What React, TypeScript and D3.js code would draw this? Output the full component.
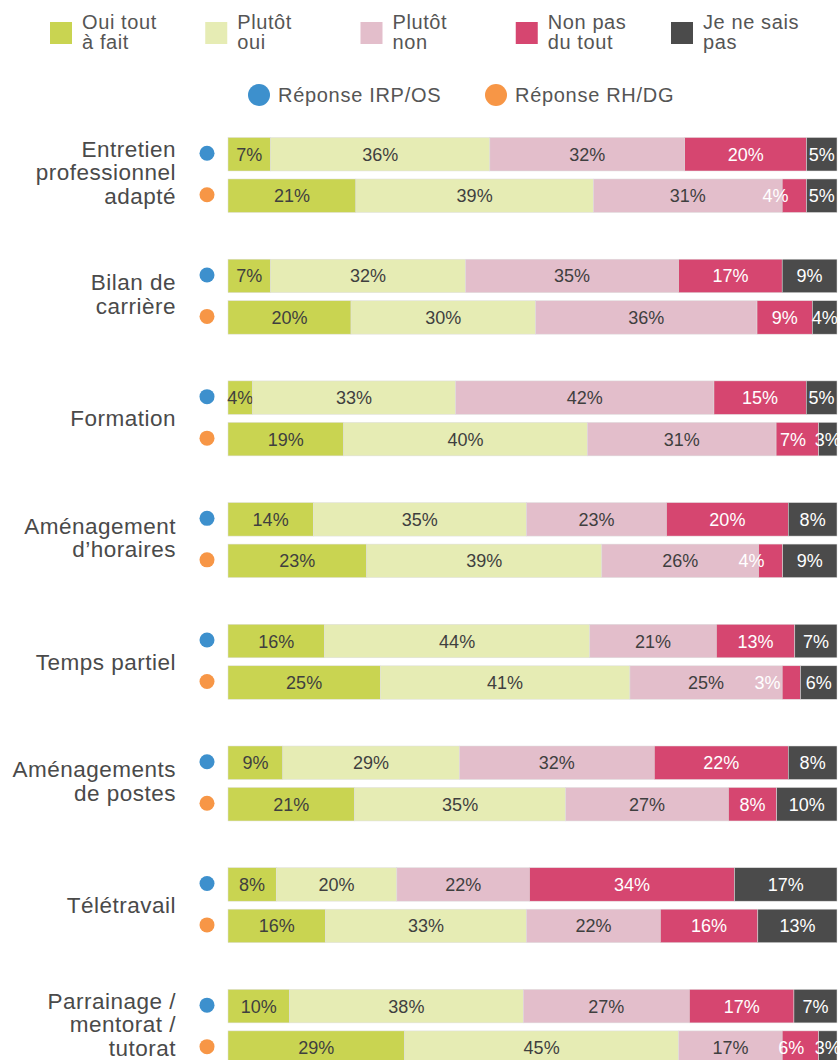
import React from 'react';
import * as d3 from 'd3';

const W = 839;
const H = 1060;

const categories = [
  'Entretien\nprofessionnel\nadapté',
  'Bilan de\ncarrière',
  'Formation',
  'Aménagement\nd’horaires',
  'Temps partiel',
  'Aménagements\nde postes',
  'Télétravail',
  'Parrainage /\nmentorat /\ntutorat',
];
const answers = ['Oui tout à fait', 'Plutôt oui', 'Plutôt non', 'Non pas du tout', 'Je ne sais pas'];
const answerLegend = ['Oui tout\nà fait', 'Plutôt\noui', 'Plutôt\nnon', 'Non pas\ndu tout', 'Je ne sais\npas'];
const sources = ['Réponse IRP/OS', 'Réponse RH/DG'];

const irpValues = [
  [7, 36, 32, 20, 5],
  [7, 32, 35, 17, 9],
  [4, 33, 42, 15, 5],
  [14, 35, 23, 20, 8],
  [16, 44, 21, 13, 7],
  [9, 29, 32, 22, 8],
  [8, 20, 22, 34, 17],
  [10, 38, 27, 17, 7],
];
const rhValues = [
  [21, 39, 31, 4, 5],
  [20, 30, 36, 9, 4],
  [19, 40, 31, 7, 3],
  [23, 39, 26, 4, 9],
  [25, 41, 25, 3, 6],
  [21, 35, 27, 8, 10],
  [16, 33, 22, 16, 13],
  [29, 45, 17, 6, 3],
];

const colors = ['#c9d451', '#e6ecb4', '#e3becb', '#d64670', '#4b4b4b'];
const labelColors = ['#3f3f3f', '#3f3f3f', '#3f3f3f', '#ffffff', '#ffffff'];
const dotColors = ['#3d90cd', '#f79646'];
const font = '"Liberation Sans", Arial, sans-serif';

const App = () => {
  const rows = categories.flatMap((c, i) => [
    { cat: c, src: sources[0], ...Object.fromEntries(answers.map((a, k) => [a, irpValues[i][k]])) },
    { cat: c, src: sources[1], ...Object.fromEntries(answers.map((a, k) => [a, rhValues[i][k]])) },
  ]);
  const stacked = d3.stack<any>().keys(answers).offset(d3.stackOffsetExpand)(rows);

  const x = d3.scaleLinear().domain([0, 1]).range([228, 837]);
  const y = d3.scaleBand().domain(categories).range([137.5, 137.5 + 121.7 * (categories.length - 0.384)]).paddingInner(0.384);
  const ySub = d3.scaleBand().domain(sources).range([0, y.bandwidth()]).paddingInner(0.193);

  const legendX = d3.scalePoint().domain(answers).range([50, 671]);

  return (
    <svg width={W} height={H} style={{ position: 'absolute', left: 0, top: 0, display: 'block', background: '#fff' }} fontFamily={font}>
      {/* legend */}
      {answers.map((a, k) => (
        <g key={a} transform={`translate(${legendX(a)},0)`}>
          <rect x={0} y={22} width={22} height={22} fill={colors[k]} />
          {answerLegend[k].split('\n').map((t, j) => (
            <text key={j} x={32} y={29 + j * 20} fontSize={20} letterSpacing={0.6} fill="#555">{t}</text>
          ))}
        </g>
      ))}
      {sources.map((s, k) => (
        <g key={s} transform={`translate(${259 + k * 237},95)`}>
          <circle r={11} fill={dotColors[k]} />
          <text x={19} y={7} fontSize={20} letterSpacing={0.7} fill="#555">{s}</text>
        </g>
      ))}

      {/* category labels and dots */}
      {categories.map((c) => {
        const lines = c.split('\n');
        const cy = (y(c) as number) + y.bandwidth() / 2 - (lines.length > 1 ? 2.5 : 0);
        return (
          <g key={c}>
            {lines.map((t, j) => (
              <text key={j} x={176} y={cy + (j - (lines.length - 1) / 2) * 23.5} dy="0.35em"
                textAnchor="end" fontSize={22.5} letterSpacing={0.5} fill="#4a4a4a">{t}</text>
            ))}
            {sources.map((s, k) => (
              <circle key={s} cx={207} cy={(y(c) as number) + (ySub(s) as number) + ySub.bandwidth() / 2 - 1}
                r={7.5} fill={dotColors[k]} />
            ))}
          </g>
        );
      })}

      {/* bars */}
      {stacked.map((layer, k) => (
        <g key={layer.key}>
          {layer.map((d, i) => {
            const row = rows[i];
            const x0 = x(d[0]);
            const w = x(d[1]) - x0;
            const top = (y(row.cat) as number) + (ySub(row.src) as number);
            const dx = k === 3 ? -Math.max(0, 48 - w) * 0.8 : 0;
            return (
              <g key={i}>
                <rect x={x0} y={top} width={w} height={ySub.bandwidth()} fill={colors[k]} stroke="#dedede" strokeWidth={0.5} />
                <text x={x0 + w / 2 + dx} y={top + ySub.bandwidth() / 2} dy="0.36em" textAnchor="middle"
                  fontSize={18} fill={labelColors[k]}>{(row as any)[layer.key]}%</text>
              </g>
            );
          })}
        </g>
      ))}
    </svg>
  );
};

export default App;
